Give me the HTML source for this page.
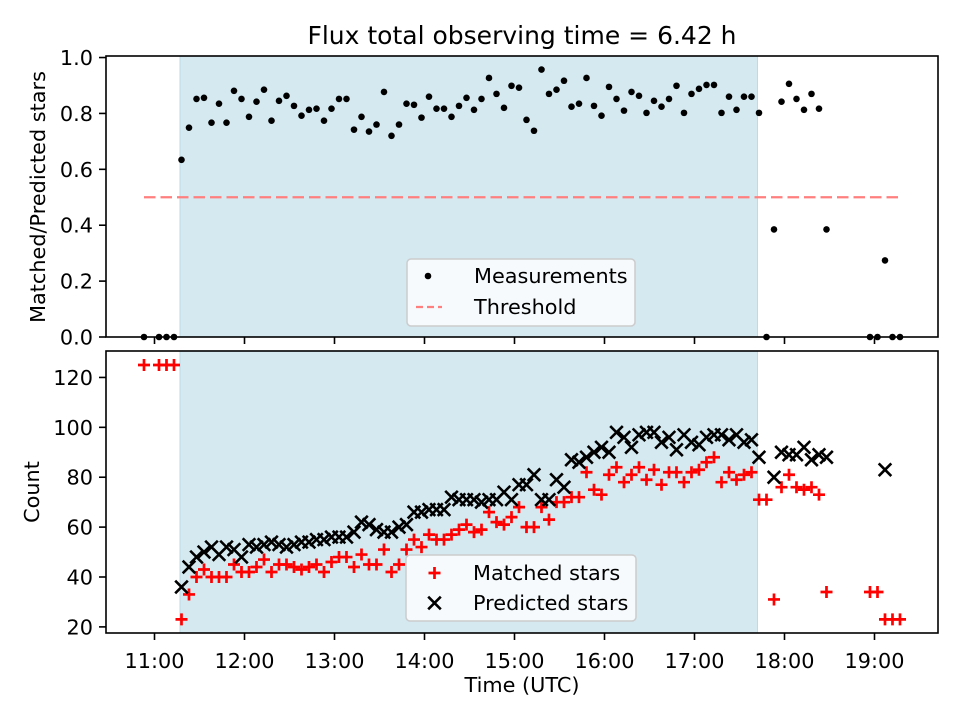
<!DOCTYPE html>
<html><head><meta charset="utf-8"><style>
body{margin:0;background:#fff;}
svg{display:block;font-family:"DejaVu Sans","Liberation Sans",sans-serif;}
</style></head><body>
<svg id="chart" width="960" height="720" viewBox="0 0 960 720" xmlns="http://www.w3.org/2000/svg"></svg>
<script>
const times = ["10:53","11:03","11:08","11:13",
"11:18","11:23","11:28","11:33","11:38","11:43","11:48","11:53","11:58","12:03","12:08","12:13","12:18","12:23","12:28","12:33","12:38","12:43","12:48","12:53","12:58","13:03","13:08","13:13","13:18","13:23","13:28","13:33","13:38","13:43","13:48","13:53","13:58","14:03","14:08","14:13","14:18","14:23","14:28","14:33","14:38","14:43","14:48","14:53","14:58","15:03","15:08","15:13","15:18","15:23","15:28","15:33","15:38","15:43","15:48","15:53","15:58","16:03","16:08","16:13","16:18","16:23","16:28","16:33","16:38","16:43","16:48","16:53","16:58","17:03","17:08","17:13","17:18","17:23","17:28","17:33","17:38","17:43",
"17:48","17:53","17:58","18:03","18:08","18:13","18:18","18:23","18:28","18:57","19:02","19:07","19:12","19:17"];
const ratio = [0,0,0,0,
0.634,0.749,0.852,0.856,0.767,0.835,0.767,0.881,0.852,0.788,0.842,0.885,0.774,0.845,0.863,0.827,0.792,0.813,0.817,0.774,0.817,0.852,0.852,0.742,0.788,0.735,0.760,0.877,0.720,0.760,0.835,0.831,0.785,0.860,0.817,0.817,0.788,0.827,0.856,0.813,0.852,0.927,0.870,0.820,0.899,0.892,0.777,0.738,
0.957,0.870,0.885,0.917,0.824,0.835,0.927,0.827,0.792,0.895,0.852,0.810,0.877,0.863,0.802,0.845,0.824,0.852,0.899,0.802,0.870,0.888,0.902,0.902,0.802,0.860,0.813,0.860,0.860,0.802,
0,0.385,0.842,0.906,0.852,0.813,0.870,0.817,0.385,0,0,0.274,0,0];
const matched = [125,125,125,125,
23,33,40,43,40,40,40,45,42,42,44,47,42,45,45,44,43,44,45,42,46,48,48,44,49,45,45,51,42,45,51,55,52,57,55,55,57,59,61,58,59,66,62,61,64,68,60,60,68,63,70,70,72,72,82,75,73,81,84,78,81,84,79,83,77,82,82,78,82,83,86,88,78,82,79,81,82,71,
71,31,76,81,76,75,76,73,34,34,34,23,23,23];
const predicted = [null,null,null,null,
36,44,48,50,52,49,52,51,48,53,52,53,54,53,52,53,54,54,55,55,56,56,56,58,62,61,59,58,58,60,61,66,66,67,67,67,72,71,71,71,70,71,71,74,71,77,77,81,71,71,79,76,87,86,88,90,92,90,98,96,92,97,98,98,94,96,91,97,94,93,96,97,97,95,97,94,95,88,
null,80,90,89,89,92,87,89,88,null,null,83,null,null];
const xTickLabels = ["11:00","12:00","13:00","14:00","15:00","16:00","17:00","18:00","19:00"];
const topTickLabels = ["0.0","0.2","0.4","0.6","0.8","1.0"];
const botTickLabels = ["20","40","60","80","100","120"];
const threshold = [0.5];
const shadeRange = ["11:17","17:42"];

const NS="http://www.w3.org/2000/svg";
const svg=document.getElementById('chart');
function mk(tag,attrs,parent){const e=document.createElementNS(NS,tag);for(const k in attrs)e.setAttribute(k,attrs[k]);(parent||svg).appendChild(e);return e;}
function hrs(s){const p=s.split(':');return +p[0]+ +p[1]/60;}
const L=106,R=938;
const X0=10.4611,X1=19.7056;
function xs(h){return L+(h-X0)/(X1-X0)*(R-L);}
const T1=56,T2=337;
function yTop(v){return T2-(v-0)/(1.0055-0)*(T2-T1);}
const B1=351,B2=633;
const BMIN=17.55,BMAX=130.6;
function yBot(v){return B2-(v-BMIN)/(BMAX-BMIN)*(B2-B1);}

[[T1,T2,'top'],[B1,B2,'bottom']].forEach(([a,b,n])=>{
  const sx=xs(hrs(shadeRange[0])), ex=xs(hrs(shadeRange[1]));
  const r=mk('rect',{x:sx,y:a,width:ex-sx,height:b-a,fill:'#d4e9f0',stroke:'#bcdbe6','stroke-width':1});
  
  
});

const th=mk('line',{x1:xs(hrs(times[0])),x2:xs(hrs(times[times.length-1])),y1:yTop(threshold[0]),y2:yTop(threshold[0]),stroke:'#ff7f7f','stroke-width':2.2,'stroke-dasharray':'11.5,5'});



times.forEach((t,i)=>{
  const c=mk('circle',{cx:xs(hrs(t)),cy:yTop(ratio[i]),r:3.3,fill:'#000'});
  
  
});

function plus(x,y,g){mk('path',{d:`M${x-6},${y}H${x+6}M${x},${y-6}V${y+6}`,stroke:'#f00','stroke-width':2.7,fill:'none'},g);}
function cross(x,y,g){mk('path',{d:`M${x-6.3},${y-6.3}L${x+6.3},${y+6.3}M${x-6.3},${y+6.3}L${x+6.3},${y-6.3}`,stroke:'#000','stroke-width':2.6,fill:'none'},g);}
const gm=mk('g',{});


times.forEach((t,i)=>{if(matched[i]!=null)plus(xs(hrs(t)),yBot(matched[i]),gm);});
const gp=mk('g',{});


times.forEach((t,i)=>{if(predicted[i]!=null)cross(xs(hrs(t)),yBot(predicted[i]),gp);});

[[T1,T2,'top-axes-frame'],[B1,B2,'bottom-axes-frame']].forEach(([a,b,n])=>{
  const f=mk('rect',{x:L,y:a,width:R-L,height:b-a,fill:'none',stroke:'#000','stroke-width':1.6});
  
  
});

xTickLabels.forEach((lab,i)=>{
  const x=xs(hrs(lab));
  mk('line',{x1:x,x2:x,y1:T2,y2:T2+7,stroke:'#000','stroke-width':1.6});
  mk('line',{x1:x,x2:x,y1:B2,y2:B2+7,stroke:'#000','stroke-width':1.6});
  const t=mk('text',{x:x,y:668,'text-anchor':'middle','font-size':'20.8px',fill:'#000'});
  t.textContent=lab;
  
  
});
topTickLabels.forEach(lab=>{
  const y=yTop(+lab);
  mk('line',{x1:L-7,x2:L,y1:y,y2:y,stroke:'#000','stroke-width':1.6});
  const t=mk('text',{x:L-13,y:y+7.5,'text-anchor':'end','font-size':'20.8px',fill:'#000'});
  t.textContent=lab;
  
  
});
botTickLabels.forEach(lab=>{
  const y=yBot(+lab);
  mk('line',{x1:L-7,x2:L,y1:y,y2:y,stroke:'#000','stroke-width':1.6});
  const t=mk('text',{x:L-13,y:y+7.5,'text-anchor':'end','font-size':'20.8px',fill:'#000'});
  t.textContent=lab;
  
  
});
</script>
<svg style="position:absolute;left:0;top:0" width="960" height="720" xmlns="http://www.w3.org/2000/svg" font-family="DejaVu Sans, Liberation Sans, sans-serif">
  <text x="522" y="44" text-anchor="middle" font-size="25px">Flux total observing time = 6.42 h</text>
  <text transform="translate(45,197) rotate(-90)" text-anchor="middle" font-size="20.8px">Matched/Predicted stars</text>
  <text transform="translate(39,492) rotate(-90)" text-anchor="middle" font-size="20.8px">Count</text>
  <text x="522" y="692" text-anchor="middle" font-size="20.8px">Time (UTC)</text>
  <g>
    <rect x="407" y="259" width="228" height="67" rx="4" fill="#f6fafc" stroke="#cccccc" stroke-width="1.5"/>
    <circle cx="428" cy="276" r="3.3" fill="#000"/>
    <text x="474" y="283" font-size="20.8px">Measurements</text>
    <line x1="416" x2="442" y1="307" y2="307" stroke="#ff7f7f" stroke-width="2.2" stroke-dasharray="7,4"/>
    <text x="474" y="314" font-size="20.8px">Threshold</text>
  </g>
  <g>
    <rect x="406" y="555" width="230" height="66" rx="4" fill="#f6fafc" stroke="#cccccc" stroke-width="1.5"/>
    <path d="M428.5,573H440.5M434.5,567V579" stroke="#f00" stroke-width="2.7"/>
    <text x="473" y="580" font-size="20.8px">Matched stars</text>
    <path d="M428.2,596.7L440.8,609.3M428.2,609.3L440.8,596.7" stroke="#000" stroke-width="2.6"/>
    <text x="473" y="610" font-size="20.8px">Predicted stars</text>
  </g>
</svg>
</body></html>
